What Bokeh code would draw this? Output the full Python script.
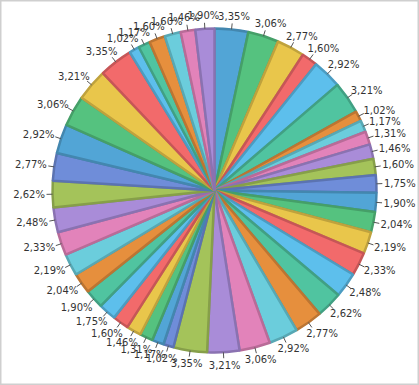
import math
from bokeh.plotting import figure
from bokeh.models import ColumnDataSource, Range1d
from bokeh.embed import file_html
from bokeh.resources import INLINE
from bokeh.core.properties import value

# slice values (clockwise from 12 o'clock)
units = ([23, 21, 19, 11, 20, 22]
         + [7, 8, 9, 10, 11, 12, 13, 14, 15, 16, 17, 18, 19, 20, 21, 22, 23]
         + [7, 8, 9, 10, 11, 12, 13, 14, 15, 16, 17, 18, 19, 20, 21, 22, 23]
         + [7, 8, 11, 11, 10, 13])

palette = ["#52a5d6", "#55c27f", "#e9c64b", "#f26a6b", "#5dbfec", "#50c4a0",
           "#e68f3d", "#6bcddc", "#e283ba", "#a98cd8", "#a4c35a", "#6f8dd9"]

W, H = 419, 385
cx, cy = 214.0, H - 190.0
r = 162.0


def darker(h, f=0.8):
    h = h.lstrip("#")
    rgb = [int(h[i:i + 2], 16) for i in (0, 2, 4)]
    return "#" + "".join("%02x" % int(c * f) for c in rgb)


total = float(sum(units))
starts, ends, mids = [], [], []
acc = 0.0
for u in units:
    a0 = math.pi / 2 - acc / total * 2 * math.pi
    acc += u
    a1 = math.pi / 2 - acc / total * 2 * math.pi
    starts.append(a0)
    ends.append(a1)
    mids.append((a0 + a1) / 2)

labels = [("%.2f" % (u / total * 100)).replace(".", ",") + "%" for u in units]
fills = [palette[i % len(palette)] for i in range(len(units))]
lines = [darker(c, 0.82) for c in fills]

tw, th = 31.0, 10.0
tx0, ty0, tx1, ty1, lx, ly = [], [], [], [], [], []
for m in mids:
    c, s = math.cos(m), math.sin(m)
    tx0.append(cx + (r + 0) * c)
    ty0.append(cy + (r + 0) * s)
    tx1.append(cx + (r + 6) * c)
    ty1.append(cy + (r + 6) * s)
    px, py = cx + (r + 8) * c, cy + (r + 8) * s
    lx.append(px + c * tw / 2)
    ly.append(py + s * th / 2)

src = ColumnDataSource(dict(x=[cx] * len(units), y=[cy] * len(units),
                            start=starts, end=ends, fill=fills, line=lines,
                            x0=tx0, y0=ty0, x1=tx1, y1=ty1,
                            lx=lx, ly=ly, label=labels))

p = figure(width=W, height=H, x_range=Range1d(0, W), y_range=Range1d(0, H),
           output_backend="svg", toolbar_location=None, min_border=0,
           x_axis_location=None, y_axis_location=None)
p.grid.visible = False
p.outline_line_color = "#cfcfcf"
p.outline_line_width = 2
p.background_fill_color = "white"
p.border_fill_color = "white"

p.wedge(x="x", y="y", radius=r, start_angle="start", end_angle="end",
        direction="clock", fill_color="fill", line_color="line",
        line_width=2.5, source=src)
p.segment(x0="x0", y0="y0", x1="x1", y1="y1", line_color="#555555",
          line_width=1, source=src)
p.text(x="lx", y="ly", text="label", text_align="center",
       text_baseline="middle", text_font=value("DejaVu Sans"),
       text_font_size="10px", text_color="#333333", source=src)

open("out.html", "w").write(file_html(p, INLINE))
